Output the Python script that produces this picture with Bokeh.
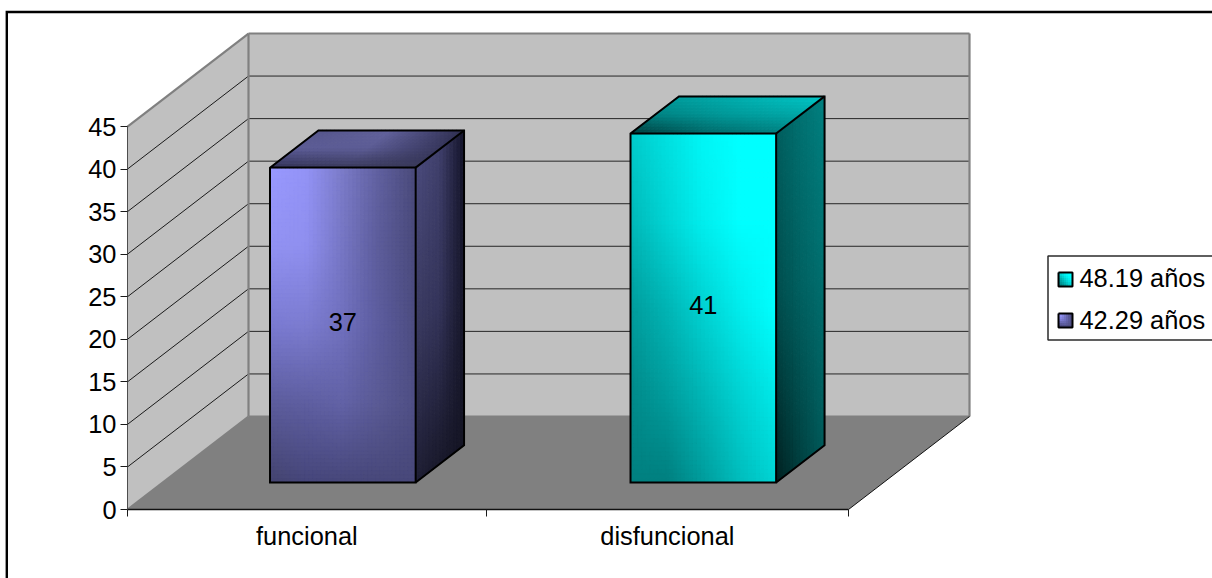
from bokeh.core.properties import value as fixed
from bokeh.embed import file_html
from bokeh.models import ColumnDataSource, FixedTicker, LinearAxis, Range1d
from bokeh.plotting import figure
from bokeh.resources import INLINE

# Chart content
categories = ["funcional", "disfuncional"]
values = [37, 41]
series_names = ["42.29 años", "48.19 años"]
value_ticks = [0, 5, 10, 15, 20, 25, 30, 35, 40, 45]
category_edges = [0, 0.995, 2]

# Page and plot layout, in screen pixels
WIDTH, HEIGHT = 1212, 578
FRONT_LEFT, FRONT_BOTTOM = 127, 509
PX_PER_CATEGORY = 360.5
PX_PER_VALUE = 8.511
DEPTH_PX_X, DEPTH_PX_Y = 121, 93
FONT = "Liberation Sans"
FONT_SIZE = "25.4px"

# Bar placement inside a category slot and inside the depth of the box
BAR_START, BAR_END = 0.298, 0.702
DEPTH_START, DEPTH_END = 0.29, 0.69

# Face shading: rows run top to bottom (back to front on the roof), columns left to right
PURPLE_FRONT = [
    ["#9999ff", "#9393f6", "#7b7bc8", "#60609f", "#4a4a7a"],
    ["#9292f2", "#8f8fef", "#7676c4", "#5c5c9a", "#4a4a7c"],
    ["#7a7ad2", "#7c7cd0", "#7070be", "#5c5c9e", "#4c4c80"],
    ["#5c5c9c", "#5e5ea0", "#6262a6", "#5a5a94", "#4e4e84"],
    ["#44446f", "#46467a", "#47477a", "#48487a", "#48487a"],
]
PURPLE_SIDE = [
    ["#4a4a7c", "#40406c", "#14142a"],
    ["#3a3a60", "#34345a", "#16162a"],
    ["#1e1e34", "#1a1a2c", "#141424"],
]
PURPLE_ROOF = [
    ["#55558a", "#62629c", "#2f2f52"],
    ["#5c5c96", "#5c5c94", "#38385e"],
    ["#34345a", "#3c3c60", "#3a3a5c"],
]
CYAN_FRONT = [
    ["#00cccc", "#00e0e0", "#00f6f6", "#00ffff", "#00ffff"],
    ["#00b8b8", "#00d4d4", "#00eeee", "#00ffff", "#00ffff"],
    ["#009c9c", "#00b4b4", "#00d2d2", "#00ecec", "#00ffff"],
    ["#008a8a", "#009c9c", "#00b6b6", "#00d2d2", "#00e8e8"],
    ["#008080", "#007f7f", "#009c9c", "#00bcbc", "#00d4d4"],
]
CYAN_SIDE = [
    ["#005c5c", "#007070", "#008080"],
    ["#004a4a", "#006060", "#007070"],
    ["#002020", "#004040", "#005c5c"],
]
CYAN_ROOF = [
    ["#00a0a0", "#00b4b4", "#00c8c8"],
    ["#008484", "#009a9a", "#00a8a8"],
    ["#004040", "#006a6a", "#008080"],
]
SHADES = [
    (PURPLE_FRONT, PURPLE_SIDE, PURPLE_ROOF),
    (CYAN_FRONT, CYAN_SIDE, CYAN_ROOF),
]


def px_x(px):
    return (px - FRONT_LEFT) / PX_PER_CATEGORY


def px_y(py):
    return (FRONT_BOTTOM - py) / PX_PER_VALUE


DX = DEPTH_PX_X / PX_PER_CATEGORY
DY = DEPTH_PX_Y / PX_PER_VALUE


def project(cat, val, depth):
    """Oblique projection of a box coordinate into the plot's data space."""
    return cat + depth * DX, val + depth * DY


def to_rgb(hex_color):
    return tuple(int(hex_color[i:i + 2], 16) for i in (1, 3, 5))


def shade_at(grid, s, t):
    """Bilinear blend of the colour grid; s runs across the columns, t down the rows."""
    rows, cols = len(grid) - 1, len(grid[0]) - 1
    r = min(int(t * rows), rows - 1)
    c = min(int(s * cols), cols - 1)
    fr, fc = t * rows - r, s * cols - c
    a, b = to_rgb(grid[r][c]), to_rgb(grid[r][c + 1])
    d, e = to_rgb(grid[r + 1][c]), to_rgb(grid[r + 1][c + 1])
    out = []
    for i in range(3):
        top = a[i] + (b[i] - a[i]) * fc
        low = d[i] + (e[i] - d[i]) * fc
        out.append(round(top + (low - top) * fr))
    return "#%02x%02x%02x" % tuple(out)


def shaded_face(fig, corner, across, down, grid, n_across, n_down):
    """Fill a parallelogram with small cells following the colour grid."""
    xs, ys, colors = [], [], []
    for i in range(n_across):
        for j in range(n_down):
            s0, s1 = i / n_across, (i + 1) / n_across
            t0, t1 = j / n_down, (j + 1) / n_down
            xs.append([corner[0] + across[0] * a + down[0] * b
                       for a, b in ((s0, t0), (s1, t0), (s1, t1), (s0, t1))])
            ys.append([corner[1] + across[1] * a + down[1] * b
                       for a, b in ((s0, t0), (s1, t0), (s1, t1), (s0, t1))])
            colors.append(shade_at(grid, (s0 + s1) / 2, (t0 + t1) / 2))
    source = ColumnDataSource(dict(xs=xs, ys=ys, color=colors))
    fig.patches("xs", "ys", source=source, fill_color="color", line_color="color", line_width=1)


p = figure(
    width=WIDTH,
    height=HEIGHT,
    output_backend="svg",
    toolbar_location=None,
    x_axis_location=None,
    y_axis_location=None,
    x_range=Range1d(px_x(0), px_x(WIDTH)),
    y_range=Range1d(px_y(HEIGHT), px_y(0)),
    min_border=0,
    outline_line_color=None,
    background_fill_color="white",
    border_fill_color="white",
)
p.grid.visible = False

cat_max = category_edges[-1]
val_max = value_ticks[-1]


def wall(corners, color):
    pts = [project(*c) for c in corners]
    p.patch([q[0] for q in pts], [q[1] for q in pts], fill_color=color, line_color=None)


def edge(a, b, color, width):
    pa, pb = project(*a), project(*b)
    p.line([pa[0], pb[0]], [pa[1], pb[1]], line_color=color, line_width=width)


# Box walls and floor
wall([(0, 0, 1), (cat_max, 0, 1), (cat_max, val_max, 1), (0, val_max, 1)], "#c0c0c0")
wall([(0, 0, 0), (0, 0, 1), (0, val_max, 1), (0, val_max, 0)], "#c0c0c0")
wall([(0, 0, 0), (cat_max, 0, 0), (cat_max, 0, 1), (0, 0, 1)], "#808080")

# Gridlines wrap around the left wall and the back wall
for tick in value_ticks[1:-1]:
    edge((0, tick, 0), (0, tick, 1), "#1a1a1a", 1)
    edge((0, tick, 1), (cat_max, tick, 1), "#262626", 1)

# Wall edges
GRAY_EDGES = [
    ((0, val_max, 0), (0, val_max, 1)),
    ((0, val_max, 1), (cat_max, val_max, 1)),
    ((0, 0, 1), (0, val_max, 1)),
    ((cat_max, 0, 1), (cat_max, val_max, 1)),
    ((0, 0, 1), (cat_max, 0, 1)),
    ((0, 0, 0), (0, 0, 1)),
]
for a, b in GRAY_EDGES:
    edge(a, b, "#808080", 2.2)
edge((cat_max, 0, 0), (cat_max, 0, 1), "#111111", 1)

# Bars: front, side and roof faces, then their outline
for index, val in enumerate(values):
    front_shade, side_shade, roof_shade = SHADES[index]
    c0, c1 = index + BAR_START, index + BAR_END
    near_top = project(c0, val, DEPTH_START)
    width_vec = (c1 - c0, 0)
    height_vec = (0, -val)
    depth_vec = ((DEPTH_END - DEPTH_START) * DX, (DEPTH_END - DEPTH_START) * DY)

    shaded_face(p, near_top, width_vec, height_vec, front_shade, 37, 80)
    shaded_face(p, project(c1, val, DEPTH_START), depth_vec, height_vec, side_shade, 14, 80)
    shaded_face(p, project(c0, val, DEPTH_END), width_vec,
                (-depth_vec[0], -depth_vec[1]), roof_shade, 37, 12)

    outline_paths = [
        [(c0, val, DEPTH_START), (c1, val, DEPTH_START), (c1, 0, DEPTH_START),
         (c0, 0, DEPTH_START), (c0, val, DEPTH_START), (c0, val, DEPTH_END),
         (c1, val, DEPTH_END), (c1, 0, DEPTH_END), (c1, 0, DEPTH_START)],
        [(c1, val, DEPTH_START), (c1, val, DEPTH_END)],
    ]
    for path in outline_paths:
        pts = [project(*q) for q in path]
        p.line([q[0] for q in pts], [q[1] for q in pts], line_color="black",
               line_width=2, line_join="miter")

# Value labels sit in the middle of each bar's front face
LABEL_LIFT = 3 / PX_PER_VALUE
label_xs, label_ys, label_texts = [], [], []
for index, val in enumerate(values):
    lx, ly = project(index + (BAR_START + BAR_END) / 2, val / 2, DEPTH_START)
    label_xs.append(lx)
    label_ys.append(ly + LABEL_LIFT)
    label_texts.append(str(val))
p.text(label_xs, label_ys, text=label_texts, text_font=fixed(FONT), text_font_size=FONT_SIZE,
       text_color="black", text_align="center", text_baseline="middle")

# Value axis, pinned to the front-left edge of the box
y_axis = LinearAxis(
    fixed_location=0,
    bounds=(0, val_max),
    ticker=FixedTicker(ticks=value_ticks, minor_ticks=[]),
    axis_line_color="#4d4d4d",
    axis_line_width=1,
    major_tick_line_color="#1a1a1a",
    major_tick_in=0,
    major_tick_out=7,
    major_label_text_font=FONT,
    major_label_text_font_size=FONT_SIZE,
    major_label_text_color="black",
    major_label_standoff=4,
)
p.add_layout(y_axis, "left")

# Category axis along the front-bottom edge: ticks on the slot edges
x_axis = LinearAxis(
    fixed_location=0,
    bounds=(0, cat_max),
    ticker=FixedTicker(ticks=category_edges, minor_ticks=[]),
    axis_line_color="#111111",
    axis_line_width=1.5,
    major_tick_line_color="#1a1a1a",
    major_tick_in=0,
    major_tick_out=7,
    major_label_overrides={e: "" for e in category_edges},
)
p.add_layout(x_axis, "below")

# Category names at the slot centres
name_ticks = [(category_edges[i] + category_edges[i + 1]) / 2 for i in range(len(categories))]
name_axis = LinearAxis(
    fixed_location=0,
    ticker=FixedTicker(ticks=name_ticks, minor_ticks=[]),
    major_label_overrides=dict(zip(name_ticks, categories)),
    axis_line_color=None,
    major_tick_line_color=None,
    major_tick_in=0,
    major_tick_out=0,
    major_label_standoff=12,
    major_label_text_font=FONT,
    major_label_text_font_size=FONT_SIZE,
    major_label_text_color="black",
)
p.add_layout(name_axis, "below")

# Legend, running off the right edge of the page
LEG_LEFT, LEG_TOP, LEG_BOTTOM = 1047.5, 255.5, 339.5
p.line([px_x(WIDTH), px_x(LEG_LEFT), px_x(LEG_LEFT), px_x(WIDTH)],
       [px_y(LEG_TOP), px_y(LEG_TOP), px_y(LEG_BOTTOM), px_y(LEG_BOTTOM)],
       line_color="#2b2b2b", line_width=1.5)

SWATCH_LEFT, SWATCH_SIZE = 1058, 14
legend_rows = [(1, 279, 277), (0, 320, 319)]
for series_index, swatch_y, text_y in legend_rows:
    top = swatch_y - SWATCH_SIZE / 2
    corner = (px_x(SWATCH_LEFT), px_y(top))
    across = (SWATCH_SIZE / PX_PER_CATEGORY, 0)
    down = (0, -SWATCH_SIZE / PX_PER_VALUE)
    shaded_face(p, corner, across, down, SHADES[series_index][0], 7, 7)
    sx = [corner[0], corner[0] + across[0], corner[0] + across[0], corner[0], corner[0]]
    sy = [corner[1], corner[1], corner[1] + down[1], corner[1] + down[1], corner[1]]
    p.line(sx, sy, line_color="black", line_width=2)
    p.text([px_x(1079)], [px_y(text_y)], text=[series_names[series_index]],
           text_font=fixed(FONT), text_font_size=FONT_SIZE, text_color="black",
           text_align="left", text_baseline="middle")

# Heavy frame along the top and left of the page
p.line([px_x(6.3), px_x(6.3), px_x(WIDTH)], [px_y(HEIGHT), px_y(11.5), px_y(11.5)],
       line_color="black", line_width=2.4, line_join="miter")

open("out.html", "w").write(file_html(p, INLINE))
